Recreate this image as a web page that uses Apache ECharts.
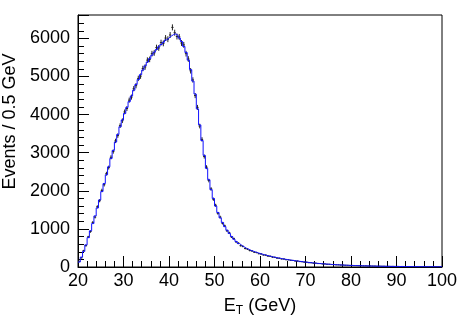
<!DOCTYPE html>
<html>
<head>
<meta charset="utf-8">
<script src="https://cdn.jsdelivr.net/npm/echarts@6/dist/echarts.min.js"></script>
<style>
html,body{margin:0;padding:0;background:#fff;}
#c{width:463px;height:315px;}
</style>
</head>
<body>
<div id="c"></div>
<script>
// Histogram binning: 0.5 GeV bins from 20 to 100 GeV
const binStart = 20;
const binWidth = 0.5;
const xTicks = [20, 30, 40, 50, 60, 70, 80, 90, 100];
const yTicks = [0, 1000, 2000, 3000, 4000, 5000, 6000];

// Fit / expectation histogram (blue line), one value per bin
const fitCounts = [
  130,260,410,580,770,950,1140,1340,1550,1760,
  1980,2190,2420,2630,2850,3060,3280,3480,3680,3860,
  4030,4190,4340,4490,4640,4790,4920,5050,5170,5280,
  5380,5470,5560,5640,5710,5780,5840,5900,5960,6010,
  6060,6100,6120,6080,6010,5920,5790,5630,5430,5180,
  4880,4540,4150,3730,3320,2930,2590,2290,2030,1800,
  1600,1430,1290,1170,1060,965,880,800,730,670,
  615,570,530,495,465,440,415,395,375,355,
  338,322,306,291,277,263,250,238,227,216,
  206,196,187,178,169,161,153,145,137,130,
  123,116,110,104,98,93,88,83,78,74,
  70,66,62,59,56,53,50,47,44,42,
  40,38,36,34,32,30,29,27,26,25,
  23,22,21,20,19,18,17,16,15,15,
  14,13,13,12,11,11,10,10,9,9,
  8,8,8,7,7,7,6,6,6,5
];

// Observed events (black points with error bars), one value per bin
const dataCounts = [
  150,240,430,560,790,930,1170,1310,1580,1740,
  2010,2160,2450,2610,2880,3030,3310,3450,3710,3840,
  4070,4160,4380,4460,4680,4760,4950,5010,5210,5250,
  5430,5450,5600,5620,5760,5750,5890,5870,6010,5980,
  6090,6290,6150,6050,6040,5880,5830,5600,5460,5150,
  4910,4500,4190,3700,3350,2900,2620,2270,2050,1780,
  1620,1410,1310,1150,1080,950,895,790,745,660,
  625,560,540,485,470,432,420,388,380,350,
  342,316,311,286,281,258,254,233,230,212,
  209,192,190,174,172,157,156,142,139,127,
  125,113,112,101,100,90,90,81,80,72,
  72,64,64,57,57,51,51,46,45,41,
  41,37,37,33,33,29,30,26,27,24,
  24,21,22,19,20,17,18,15,16,14,
  15,12,14,11,12,10,11,9,10,8,
  9,7,9,6,8,6,7,5,7,4
];

const FONT = '"Liberation Sans", Arial, Helvetica, sans-serif';

// step outline for the fit histogram
const stepData = [];
fitCounts.forEach((v, i) => {
  const lo = binStart + i * binWidth;
  stepData.push([lo, v]);
  stepData.push([lo + binWidth, v]);
});

// points with statistical errors
const pointData = dataCounts.map((v, i) => [binStart + (i + 0.5) * binWidth, v, Math.sqrt(v)]);

const chart = echarts.init(document.getElementById('c'), null, {renderer: 'canvas'});
chart.setOption({
  animation: false,
  backgroundColor: '#fff',
  grid: {
    left: 78, right: 21, top: 15, bottom: 48,
    containLabel: false,
    outerBoundsMode: 'none',
    show: true, borderColor: '#000', borderWidth: 1, backgroundColor: 'transparent'
  },
  xAxis: {
    type: 'value',
    min: xTicks[0], max: xTicks[xTicks.length - 1], interval: 10,
    axisLine: {show: true, lineStyle: {color: '#000', width: 1}},
    axisTick: {show: true, inside: true, length: 11, lineStyle: {color: '#000'}},
    minorTick: {show: true, splitNumber: 5, length: 6, lineStyle: {color: '#000'}},
    splitLine: {show: false},
    axisLabel: {fontSize: 18, color: '#000', fontFamily: FONT, margin: 5, formatter: v => String(v)},
    name: '{e|E}{t|T}{e| (GeV)}',
    nameLocation: 'middle',
    nameGap: 27,
    nameTextStyle: {
      fontFamily: FONT, color: '#000',
      rich: {
        e: {fontSize: 18, fontFamily: FONT, color: '#000', verticalAlign: 'top', lineHeight: 20},
        t: {fontSize: 12, fontFamily: FONT, color: '#000', verticalAlign: 'bottom', lineHeight: 14, padding: [10, 0, 0, 0]}
      }
    }
  },
  yAxis: {
    type: 'value',
    min: yTicks[0], max: 6615, interval: 1000,
    axisLine: {show: true, lineStyle: {color: '#000', width: 1}},
    axisTick: {show: true, inside: true, length: 11, lineStyle: {color: '#000'}},
    minorTick: {show: true, splitNumber: 5, length: 6, lineStyle: {color: '#000'}},
    splitLine: {show: false},
    axisLabel: {fontSize: 18, color: '#000', fontFamily: FONT, margin: 8, showMaxLabel: false, formatter: v => String(v)},
    name: 'Events / 0.5 GeV',
    nameLocation: 'middle',
    nameRotate: 90,
    nameGap: 53,
    nameTextStyle: {fontSize: 18, fontFamily: FONT, color: '#000', padding: [0, 0, 0, 39]}
  },
  series: [
    {
      type: 'custom',
      z: 2,
      clip: true,
      data: pointData,
      renderItem: function (params, api) {
        const x = api.value(0), v = api.value(1), e = api.value(2);
        const c = api.coord([x, v]);
        const t = api.coord([x, v + e]);
        const b = api.coord([x, v - e]);
        const l = api.coord([x - binWidth / 2, v]);
        const r = api.coord([x + binWidth / 2, v]);
        return {
          type: 'group',
          children: [
            {type: 'line', shape: {x1: c[0], y1: t[1], x2: c[0], y2: b[1]}, style: {stroke: '#222', lineWidth: 1}},
            {type: 'line', shape: {x1: l[0], y1: c[1], x2: r[0], y2: c[1]}, style: {stroke: '#222', lineWidth: 1}}
          ]
        };
      }
    },
    {
      type: 'line',
      z: 3,
      data: stepData,
      showSymbol: false,
      symbol: 'none',
      clip: true,
      lineStyle: {color: '#1010ff', width: 1}
    }
  ]
});
</script>
</body>
</html>
